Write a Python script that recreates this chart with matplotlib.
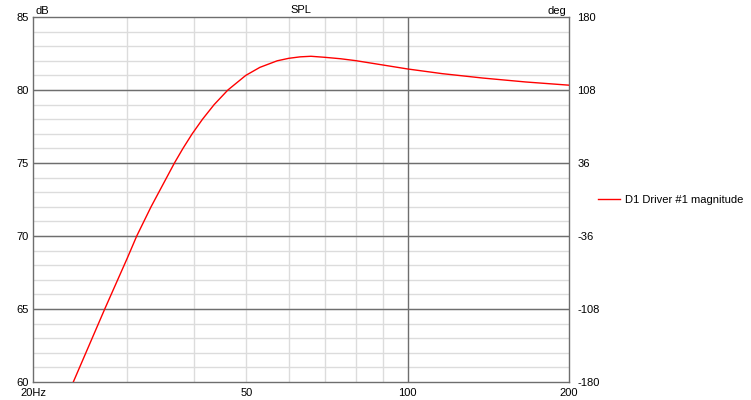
import numpy as np
import matplotlib.pyplot as plt
from matplotlib.ticker import FixedLocator, NullFormatter, NullLocator

# SPL curve (Hz, dB)
freq_hz = [23.78, 27.22, 30, 31.23, 33.21, 36.72, 38.09, 39.63, 41.43, 43.55,
           46.2, 49.89, 53.0, 57.1, 60, 63, 66, 70, 75, 80, 90, 100, 116, 138,
           166, 200]
spl_db = [60.0, 65.0, 68.5, 70.0, 72.0, 75.0, 76.0, 77.0, 78.0, 79.0,
          80.0, 81.0, 81.55, 82.0, 82.17, 82.27, 82.31, 82.24, 82.14, 82.01,
          81.71, 81.44, 81.12, 80.82, 80.55, 80.33]

x_major = [20, 50, 100, 200]
x_major_labels = ["20Hz", "50", "100", "200"]
x_minor_grid = [30, 40, 50, 60, 70, 80, 90]
db_ticks = [60, 65, 70, 75, 80, 85]
deg_ticks = [-180, -108, -36, 36, 108, 180]

plt.rcParams['font.family'] = ['Liberation Sans', 'DejaVu Sans']
plt.rcParams['axes.unicode_minus'] = False
font_size = 8
light_grid = '#dcdcdc'
dark_grid = '#6e6e6e'

fig = plt.figure(figsize=(7.51, 4.0), dpi=100)
ax = fig.add_axes([33/751, 1 - 382/400, (569 - 33)/751, (382 - 17)/400])

ax.set_xscale('log')
ax.set_xlim(20, 200)
ax.set_ylim(60, 85)

# grid lines drawn by hand so light/dark layers match the original
for f in x_minor_grid:
    ax.axvline(f, color=light_grid, lw=1, zorder=0)
for d in range(61, 85):
    ax.axhline(d, color=light_grid, lw=1, zorder=0)
for d in [65, 70, 75, 80]:
    ax.axhline(d, color=dark_grid, lw=1, zorder=1)
ax.axvline(100, color=dark_grid, lw=1, zorder=1)

ax.plot(freq_hz, spl_db, color='red', lw=1.0, zorder=3,
        label='D1 Driver #1 magnitude')

ax.xaxis.set_major_locator(FixedLocator(x_major))
ax.set_xticklabels(x_major_labels)
ax.xaxis.set_minor_locator(NullLocator())
ax.xaxis.set_minor_formatter(NullFormatter())
ax.set_yticks(db_ticks)
ax.tick_params(axis='both', length=0, labelsize=font_size)
ax.tick_params(axis='y', pad=3)
ax.tick_params(axis='x', pad=4)

for s in ax.spines.values():
    s.set_color(dark_grid)
    s.set_linewidth(1)

ax2 = ax.twinx()
ax2.set_ylim(-180, 180)
ax2.set_yticks(deg_ticks)
ax2.tick_params(axis='y', length=0, labelsize=font_size, pad=6)
for s in ax2.spines.values():
    s.set_visible(False)

ax.set_title("SPL", fontsize=font_size, pad=3)
ax.text(0.004, 1.004, "dB", transform=ax.transAxes, ha='left', va='bottom',
        fontsize=font_size)
ax.text(0.994, 1.004, "deg", transform=ax.transAxes, ha='right', va='bottom',
        fontsize=font_size)

fig.legend(loc='center left', bbox_to_anchor=(598/751, 1 - 200/400),
           frameon=False, fontsize=font_size, handlelength=2.0,
           handletextpad=0.4, borderpad=0, borderaxespad=0)

fig.savefig("out.png", dpi=100)
